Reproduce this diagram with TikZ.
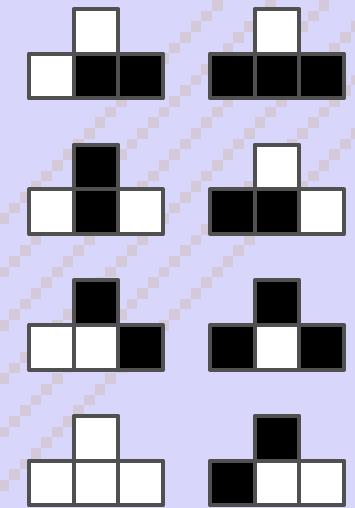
\documentclass[tikz,border=0pt]{standalone}
\definecolor{bgc}{HTML}{D8D6FA}
\definecolor{stairc}{HTML}{D4C9D9}
\definecolor{edgec}{HTML}{505050}
\tikzset{
  cellw/.style={fill=white,draw=edgec,line width=4pt,line join=round},
  cellb/.style={fill=black,draw=edgec,line width=4pt,line join=round},
  stairsq/.style={fill=stairc}
}
\newcommand\tblock[6]{%
  \draw[#3] ({#1+44.67},{#2}) rectangle ++(44.67,44.67);
  \draw[#4] ({#1},{#2+44.67}) rectangle ++(44.67,44.67);
  \draw[#5] ({#1+44.67},{#2+44.67}) rectangle ++(44.67,44.67);
  \draw[#6] ({#1+89.33},{#2+44.67}) rectangle ++(44.67,44.67);
}
\begin{document}
\begin{tikzpicture}[x=1pt,y=-1pt]
\fill[bgc] (0,0) rectangle (355,508);
\useasboundingbox (0,0) rectangle (355,508);
\begin{scope}
\clip (0,0) rectangle (355,508);
\def\sq{10.667}
\foreach \c in {222.7,276,329.3,382.6,435.9,489.2}{
  \foreach \j in {0,...,47}{
    \pgfmathsetmacro\yt{\j*\sq}
    \pgfmathsetmacro\xl{\c-(\j+1)*\sq}
    \fill[stairsq] (\xl,\yt) rectangle ++(\sq,\sq);
  }
}
\end{scope}
\tblock{29}{9}{cellw}{cellw}{cellb}{cellb}
\tblock{210}{9}{cellw}{cellb}{cellb}{cellb}
\tblock{29}{144.67}{cellb}{cellw}{cellb}{cellw}
\tblock{210}{144.67}{cellw}{cellb}{cellb}{cellw}
\tblock{29}{280.33}{cellb}{cellw}{cellw}{cellb}
\tblock{210}{280.33}{cellb}{cellb}{cellw}{cellb}
\tblock{29}{416}{cellw}{cellw}{cellw}{cellw}
\tblock{210}{416}{cellb}{cellb}{cellw}{cellw}
\end{tikzpicture}
\end{document}
